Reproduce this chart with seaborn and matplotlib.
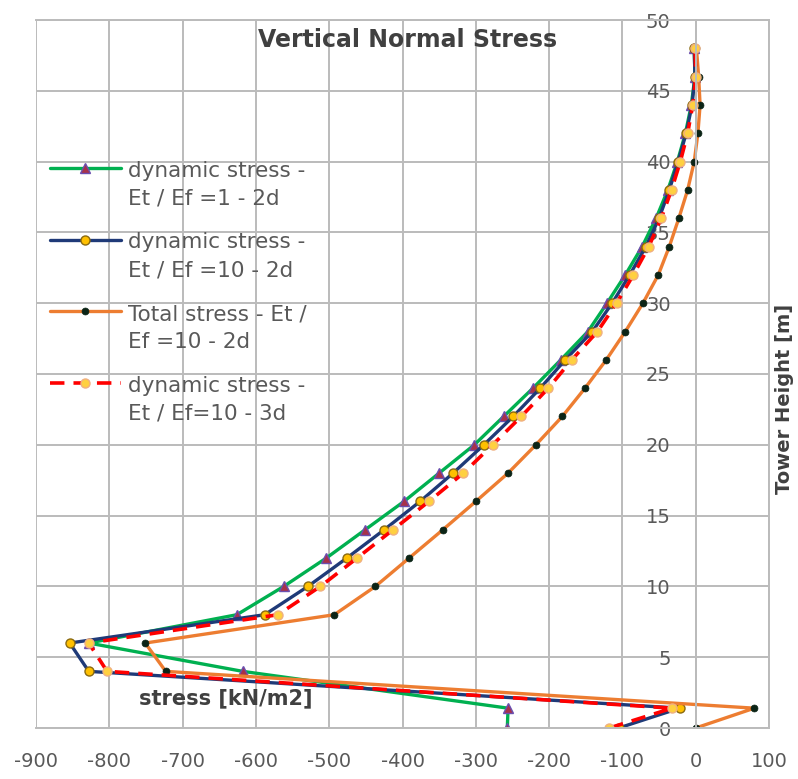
import matplotlib
matplotlib.use("Agg")
import matplotlib.pyplot as plt
import seaborn as sns
import pandas as pd
import numpy as np
from matplotlib.ticker import MultipleLocator
from matplotlib.legend_handler import HandlerLine2D

# ---- data ----
heights = [0, 1.4, 4, 6, 8, 10, 12, 14, 16, 18, 20, 22, 24, 26, 28, 30,
           32, 34, 36, 38, 40, 42, 44, 46, 48]
dyn_et1_2d = [-257, -256, -618, -828, -626, -562, -504, -451, -398, -350, -302,
              -262, -222, -184, -147, -121, -96, -73, -54, -38, -25, -14, -6, -1, -2]
dyn_et10_2d = [-105, -22, -828, -854, -588, -529, -476, -425, -376, -331, -289,
               -249, -212, -178, -141, -114, -90, -68, -50, -36, -24, -13, -5, -1, -2]
total_et10_2d = [0, 80, -723, -751, -493, -437, -391, -345, -300, -256, -218,
                 -182, -151, -122, -96, -72, -51, -36, -23, -11, -2, 3, 6, 4, 1]
dyn_et10_3d = [-118, -32, -803, -828, -570, -512, -462, -413, -364, -317, -277,
               -238, -201, -169, -134, -108, -85, -64, -47, -33, -21, -11, -4, 0, -1]

labels = ["dynamic stress -\nEt / Ef =1 - 2d",
          "dynamic stress -\nEt / Ef =10 - 2d",
          "Total stress - Et /\nEf =10 - 2d",
          "dynamic stress -\nEt / Ef=10 - 3d"]
x_ticks = list(range(-900, 101, 100))
y_ticks = list(range(0, 51, 5))

sns.set_style("white")
plt.rcParams["font.family"] = ["DejaVu Sans"]
plt.rcParams["axes.unicode_minus"] = False

fig = plt.figure(figsize=(7.98, 7.79), dpi=100)
ax = fig.add_axes([36 / 798, 1 - 728 / 779, 733 / 798, 708 / 779])

series = [dyn_et1_2d, dyn_et10_2d, total_et10_2d, dyn_et10_3d]
styles = [
    dict(color="#00B050", marker="^", markersize=6.5, markerfacecolor="#A8324A",
         markeredgecolor="#6A4FB0", markeredgewidth=1.0, linewidth=2.4),
    dict(color="#1F3A78", marker="o", markersize=6.5, markerfacecolor="#FFC000",
         markeredgecolor="#8A6A10", markeredgewidth=1.0, linewidth=2.4),
    dict(color="#ED7D31", marker="o", markersize=5, markerfacecolor="#0B2416",
         markeredgecolor="#0B2416", markeredgewidth=0.5, linewidth=2.4),
    dict(color="#FF0000", marker="o", markersize=6.5, markerfacecolor="#FFD040",
         markeredgecolor="#F0B080", markeredgewidth=1.0, linewidth=2.6,
         linestyle=(0, (4, 2.5))),
]

for vals, lab, st in zip(series, labels, styles):
    df = pd.DataFrame({"stress": vals, "height": heights})
    sns.lineplot(data=df, x="stress", y="height", sort=False, estimator=None,
                 ax=ax, label=lab, **st)

ax.set_xlim(-900, 100)
ax.set_ylim(0, 50)
ax.xaxis.set_minor_locator(MultipleLocator(50))
ax.set_xticks(x_ticks)
ax.set_yticks(y_ticks)
ax.grid(True, which="major", color="#BBBBBB", linewidth=1.4)
ax.set_axisbelow(True)

for s in ["top", "right", "bottom"]:
    ax.spines[s].set_visible(True)
    ax.spines[s].set_color("#BBBBBB")
    ax.spines[s].set_linewidth(1.4)
ax.spines["left"].set_position(("data", 0))
ax.spines["left"].set_color("#BBBBBB")
ax.spines["left"].set_linewidth(1.4)

ax.tick_params(axis="x", which="both", direction="out", length=5, width=1.2,
               color="#BBBBBB", labelsize=14, labelcolor="#595959", pad=12)
ax.tick_params(axis="y", length=0, pad=18, labelsize=14, labelcolor="#595959")
ax.set_xlabel("")
ax.set_ylabel("")

fig.text(226 / 798, 1 - 698 / 779, "stress [kN/m2]", fontsize=15, fontweight="bold",
         color="#404040", ha="center", va="center")
fig.text(784 / 798, 1 - 399 / 779, "Tower Height [m]", fontsize=14, fontweight="bold",
         color="#404040", ha="center", va="center", rotation=90)
fig.text(408 / 798, 1 - 40 / 779, "Vertical Normal Stress", fontsize=17,
         fontweight="bold", color="#404040", ha="center", va="center")


class FirstLineHandler(HandlerLine2D):
    """Place the legend line beside the first line of a two-line label."""
    def create_artists(self, legend, orig_handle, xdescent, ydescent, width,
                       height, fontsize, trans):
        arts = super().create_artists(legend, orig_handle, xdescent, ydescent,
                                      width, height, fontsize, trans)
        for a in arts:
            a.set_ydata(np.asarray(a.get_ydata(), dtype=float) + 0.8 * fontsize)
        return arts


handles = ax.get_lines()[:4]
leg = ax.legend(handles=handles, labels=labels, loc="upper left",
                bbox_to_anchor=(39 / 798, 1 - 150 / 779),
                bbox_transform=fig.transFigure, frameon=False, fontsize=15.5,
                handlelength=3.3, handletextpad=0.35, labelspacing=1.1,
                borderpad=0, labelcolor="#595959",
                handler_map={h: FirstLineHandler() for h in handles})
for t in leg.get_texts():
    t.set_linespacing(1.5)

fig.savefig("out.png", dpi=100, facecolor="white")
